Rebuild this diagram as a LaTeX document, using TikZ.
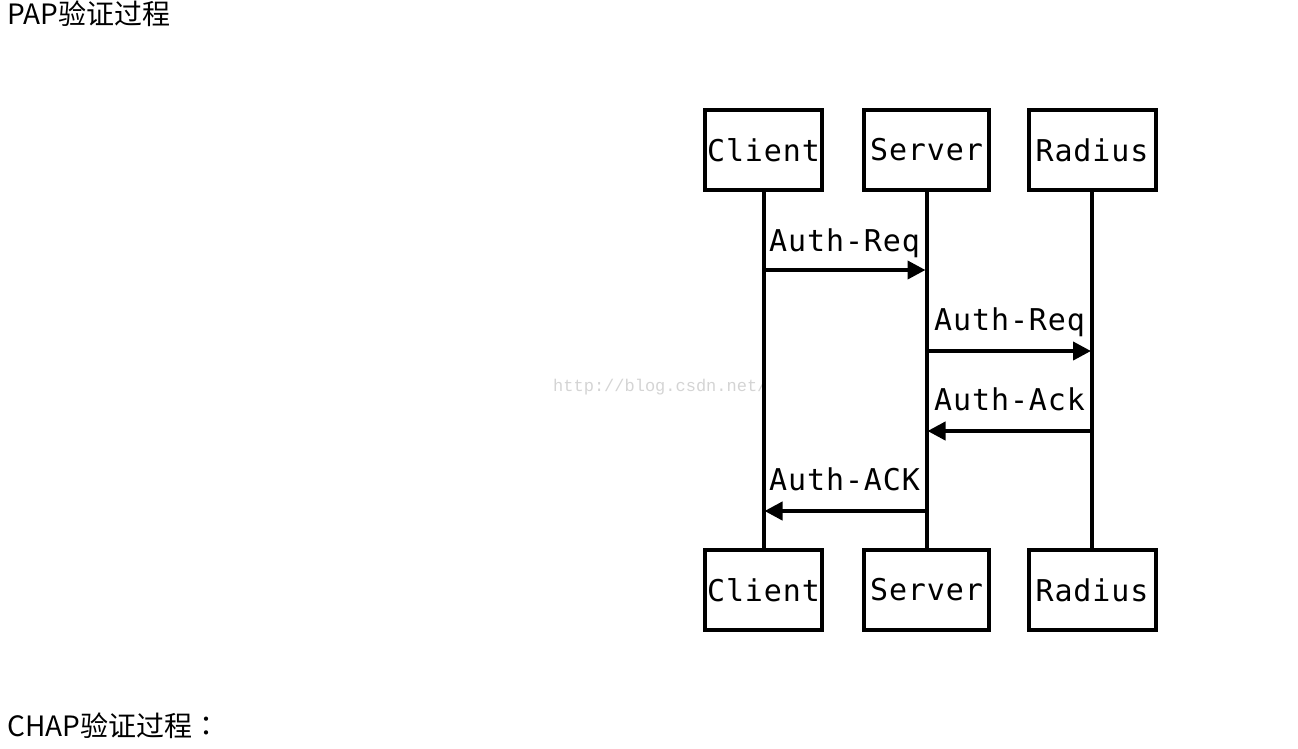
\documentclass[tikz,border=0pt]{standalone}
\usepackage{fontspec}
\usetikzlibrary{arrows.meta}
\newfontfamily\cjk{Noto Sans CJK SC}
\newfontfamily\cjktc{Noto Sans CJK TC}
\newfontfamily\dmono[LetterSpace=3]{DejaVu Sans Mono}
\newfontfamily\wmono{Liberation Mono}
\definecolor{wm}{HTML}{D4D4D4}
\tikzset{
  actor/.style={draw=black, line width=4pt, fill=white, inner sep=0pt,
    minimum height=80pt, font=\dmono\fontsize{30}{34}\selectfont},
  life/.style={line width=4pt},
  msg/.style={line width=4pt, -{Triangle[length=18pt,width=18pt]}, shorten >=1pt},
  lbl/.style={anchor=base west, inner sep=0pt, font=\dmono\fontsize{30}{34}\selectfont},
  title/.style={anchor=base west, inner sep=0pt, font=\cjk\fontsize{28}{32}\selectfont}
}
\begin{document}
\begin{tikzpicture}[x=1pt,y=-1pt]
\useasboundingbox (0,0) rectangle (1298,748);
\node[title] (t1) at (7,24) {PAP验证过程};
\node[title] (t2) at (7,736) {CHAP验证过程{\cjktc ：}};
\node[anchor=base west, inner sep=0pt, text=wm, font=\wmono\fontsize{17}{19}\selectfont] (wmk) at (553,391) {http://blog.csdn.net/};
% actors
\node[actor, minimum width=117pt] (ct) at (763.5,150) {Client};
\node[actor, minimum width=125pt] (st) at (926.5,150) {Server};
\node[actor, minimum width=127pt] (rt) at (1092,150) {Radius};
\node[actor, minimum width=117pt] (cb) at (763.5,590) {Client};
\node[actor, minimum width=125pt] (sb) at (926.5,590) {Server};
\node[actor, minimum width=127pt] (rb) at (1092,590) {Radius};
% lifelines
\draw[life] (ct.south) -- (cb.north);
\draw[life] (st.south) -- (sb.north);
\draw[life] (rt.south) -- (rb.north);
% message points
\coordinate (c1) at (763.5,270); \coordinate (s1) at (926.5,270);
\coordinate (s2) at (926.5,351); \coordinate (r2) at (1092,351);
\coordinate (r3) at (1092,431); \coordinate (s3) at (926.5,431);
\coordinate (s4) at (926.5,511); \coordinate (c4) at (763.5,511);
\draw[msg] (c1) -- (s1);
\draw[msg] (s2) -- (r2);
\draw[msg] (r3) -- (s3);
\draw[msg] (s4) -- (c4);
\node[lbl] (l1) at (769,251) {Auth-Req};
\node[lbl] (l2) at (934,330) {Auth-Req};
\node[lbl] (l3) at (934,410) {Auth-Ack};
\node[lbl] (l4) at (769,490) {Auth-ACK};
\end{tikzpicture}
\end{document}
